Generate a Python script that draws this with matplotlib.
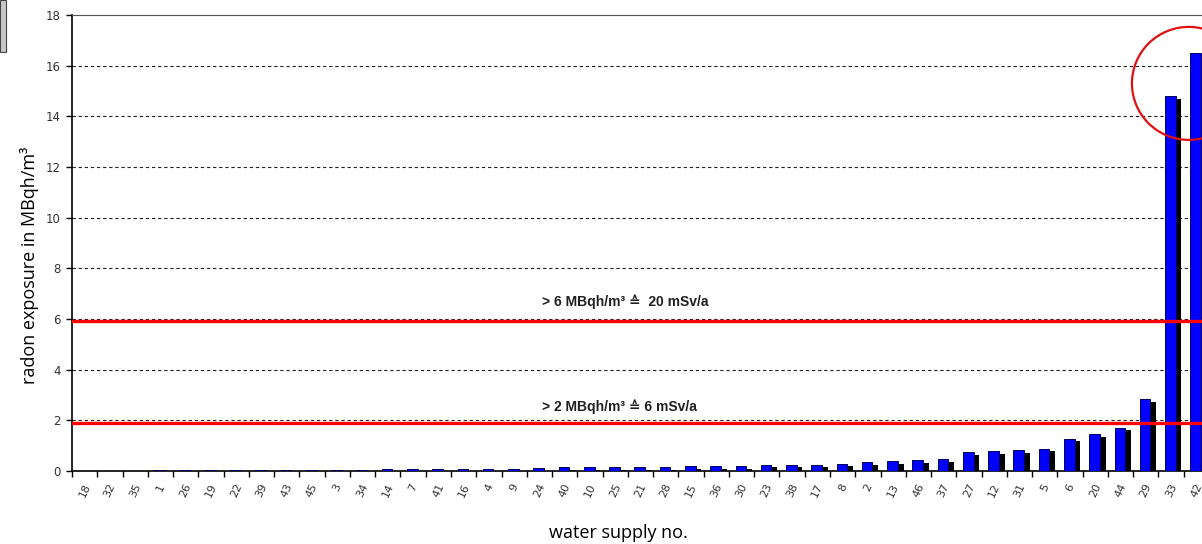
import matplotlib
matplotlib.use("Agg")
import matplotlib.pyplot as plt
from matplotlib.patches import Ellipse, Rectangle
import numpy as np

# water supply numbers, sorted by exposure
supply_labels = ['18', '32', '35', '1', '26', '19', '22', '39', '43', '45', '3', '34',
                 '14', '7', '41', '16', '4', '9', '24', '40', '10', '25', '21', '28',
                 '15', '36', '30', '23', '38', '17', '8', '2', '13', '46', '37', '27',
                 '12', '31', '5', '6', '20', '44', '29', '33', '42']
# radon exposure in MBqh/m3
exposure = [0.01, 0.01, 0.01, 0.02, 0.04, 0.04, 0.04, 0.04, 0.04, 0.04, 0.04, 0.05,
            0.08, 0.08, 0.08, 0.09, 0.09, 0.09, 0.10, 0.14, 0.14, 0.14, 0.14, 0.14,
            0.19, 0.19, 0.19, 0.24, 0.24, 0.24, 0.28, 0.34, 0.38, 0.42, 0.47, 0.74,
            0.79, 0.82, 0.88, 1.28, 1.46, 1.70, 2.84, 14.8, 16.5]
limit_levels = [5.93, 1.9]
limit_texts = ['> 6 MBqh/m\u00b3 \u2259  20 mSv/a', '> 2 MBqh/m\u00b3 \u2259 6 mSv/a']
grid_levels = [2, 4, 6, 8, 10, 12, 14, 16]

fig = plt.figure(figsize=(12.02, 5.44), dpi=100)
ax = fig.add_axes([72 / 1202, 73 / 544, 1137 / 1202, 456 / 544])

x = np.arange(len(supply_labels))
vals = np.array(exposure)

# grid first, then bars on top
for g in grid_levels:
    ax.axhline(g, color='#222222', lw=0.8, ls=(0, (3, 2.5)), zorder=0)

# 3d-ish shadow behind each bar
shadow = np.clip(vals - 0.1, 0, None)
ax.bar(x + 0.2, shadow, width=0.42, color='black', align='center', zorder=2)
ax.bar(x - 0.03, vals, width=0.42, color='#0000ff', edgecolor='#000060',
       linewidth=0.7, zorder=3)

for lvl in limit_levels:
    ax.axhline(lvl, color='#ff0000', lw=2.4, zorder=4)

ax.text(18.1, 6.67, limit_texts[0], fontsize=10, fontweight='bold', va='center',
        family=['Liberation Sans', 'DejaVu Sans'], color='#202020', zorder=5)
ax.text(18.1, 2.53, limit_texts[1], fontsize=10, fontweight='bold', va='center',
        family=['Liberation Sans', 'DejaVu Sans'], color='#202020', zorder=5)

# red circle around the two highest values
ax.add_patch(Ellipse((43.7, 15.3), 4.5, 4.46, fill=False, edgecolor='#e01010',
                     lw=1.6, zorder=6, clip_on=False))

ax.set_xlim(-0.5, len(supply_labels) - 0.5)
ax.set_ylim(0, 18)
ax.set_yticks(range(0, 19, 2))
ax.set_xticks(x)
ax.set_xticklabels(supply_labels, rotation=65, ha='center', va='top',
                   fontsize=8, color='#333333', family='DejaVu Sans')
ax.set_xticks(np.arange(-0.5, len(supply_labels), 1), minor=True)
ax.tick_params(axis='x', which='major', length=0, pad=8)
ax.tick_params(axis='x', which='minor', length=4, width=1, color='black')
ax.tick_params(axis='y', length=4, width=1, labelsize=8.5, labelcolor='#333333', pad=4)

ax.spines['right'].set_visible(False)
ax.spines['top'].set_color('#555555')
ax.spines['left'].set_linewidth(1.2)
ax.spines['bottom'].set_linewidth(1.2)

ax.set_ylabel('radon exposure in MBqh/m\u00b3', fontsize=13, family='Open Sans')
ax.yaxis.set_label_coords(-0.029, 0.45)
fig.text(618 / 1202, 1 - 533 / 544, 'water supply no.', fontsize=13,
         family='Open Sans', ha='center', va='center')

# grey box remnant at top left corner
fig.patches.append(Rectangle((0, 1 - 52 / 544), 6 / 1202, 52 / 544,
                             transform=fig.transFigure, facecolor='#c8c8c8',
                             edgecolor='#444444', lw=0.8))

fig.savefig('out.png', dpi=100)
